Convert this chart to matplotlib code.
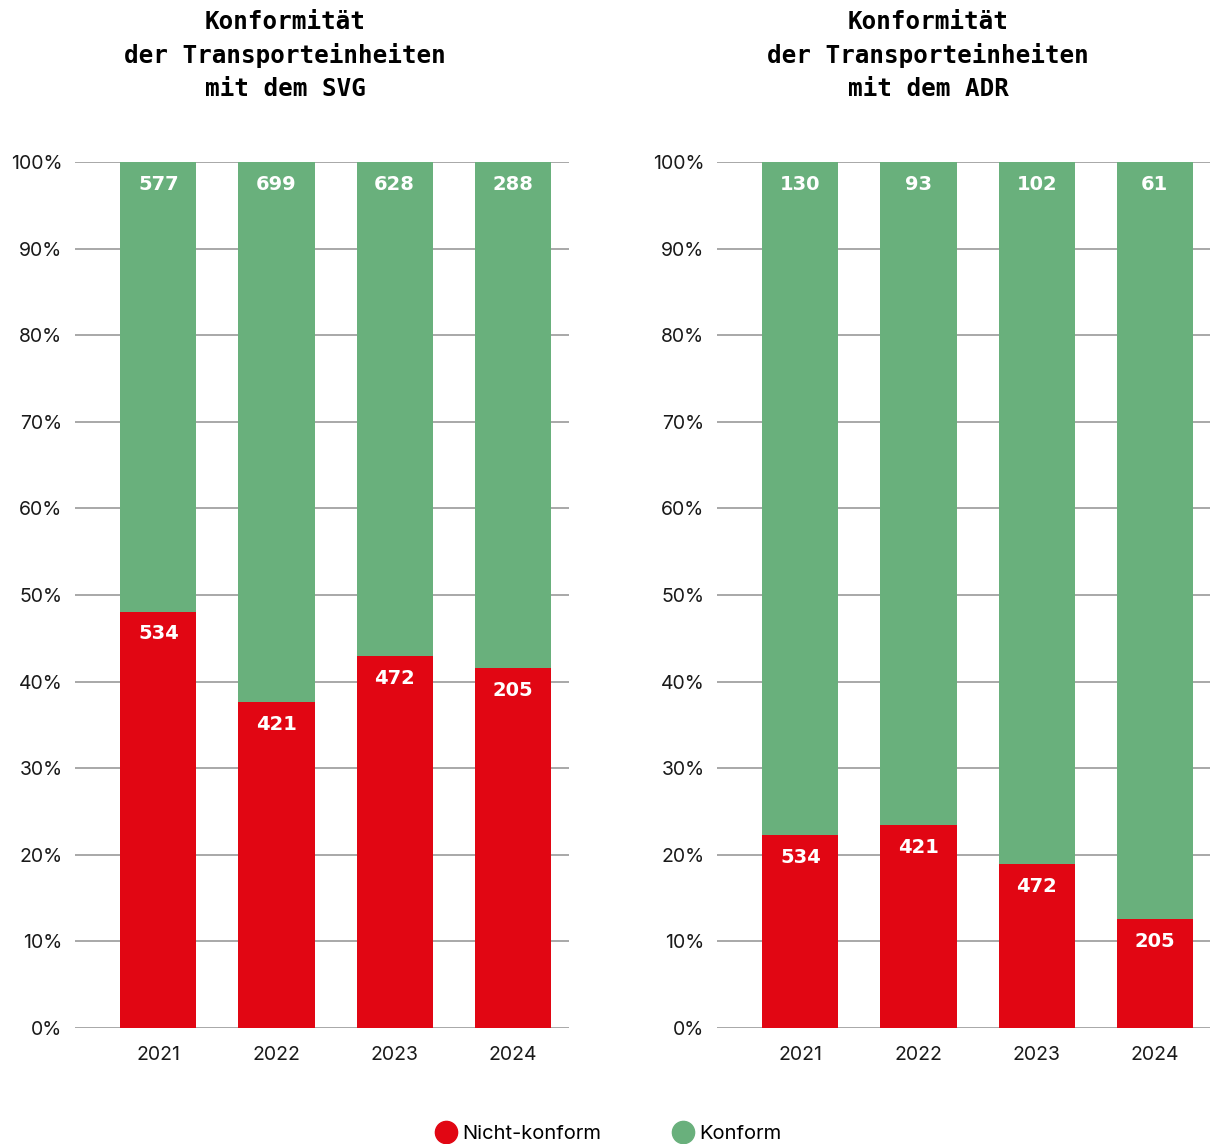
import numpy as np
import matplotlib.pyplot as plt
from matplotlib.lines import Line2D

years = ["2021", "2022", "2023", "2024"]

# SVG: counts per year
svg_nicht = [534, 421, 472, 205]
svg_konform = [577, 699, 628, 288]

# ADR: counts as labelled, shares of non-conform units in percent
adr_nicht = [534, 421, 472, 205]
adr_konform = [130, 93, 102, 61]
adr_nicht_pct = [22.3, 23.4, 18.9, 12.6]

RED = "#e10613"
GREEN = "#69b07c"
GRID = "#9a9a9a"

plt.rcParams["font.family"] = ["Inter", "DejaVu Sans"]

svg_pct = 100 * np.array(svg_nicht) / (np.array(svg_nicht) + np.array(svg_konform))
panels = [
    ("Konformität\nder Transporteinheiten\nmit dem SVG", svg_pct, svg_nicht, svg_konform),
    ("Konformität\nder Transporteinheiten\nmit dem ADR", np.array(adr_nicht_pct), adr_nicht, adr_konform),
]

fig = plt.figure(figsize=(12.1, 11.44), dpi=100)
ax_left = [75 / 1210, 717 / 1210]
title_x = [285 / 1210, 928 / 1210]

x = np.arange(len(years))
for i, (title, red_pct, red_lbl, green_lbl) in enumerate(panels):
    ax = fig.add_axes([ax_left[i], 1 - 1028 / 1144, 494 / 1210, 866 / 1144])
    green_pct = 100 - red_pct
    ax.bar(x, red_pct, width=0.644, color=RED, zorder=2)
    ax.bar(x, green_pct, bottom=red_pct, width=0.644, color=GREEN, zorder=2)

    for xi, r, rl, gl in zip(x, red_pct, red_lbl, green_lbl):
        ax.annotate(str(rl), (xi, r), xytext=(0, -16), textcoords="offset points",
                    ha="center", va="center", color="white", fontsize=14,
                    fontweight="bold", family="DejaVu Sans")
        ax.annotate(str(gl), (xi, 100), xytext=(0, -16.5), textcoords="offset points",
                    ha="center", va="center", color="white", fontsize=14,
                    fontweight="bold", family="DejaVu Sans")

    ax.set_xlim(-0.705, 3.475)
    ax.set_ylim(0, 100)
    ax.set_yticks(np.arange(0, 101, 10))
    ax.set_yticklabels([f"{v}%" for v in range(0, 101, 10)])
    ax.set_xticks(x)
    ax.set_xticklabels(years)
    ax.tick_params(axis="both", length=0, labelsize=14, colors="#1a1a1a")
    ax.tick_params(axis="y", pad=9)
    ax.tick_params(axis="x", pad=13)
    ax.yaxis.grid(True, color=GRID, linewidth=1.2)
    ax.set_axisbelow(True)
    for s in ax.spines.values():
        s.set_visible(False)

    fig.text(title_x[i], 1 - 10 / 1144, title, ha="center", va="top",
             family="DejaVu Sans Mono", fontweight="bold", fontsize=17.5,
             linespacing=1.45)

handles = [
    Line2D([], [], marker="o", linestyle="none", markersize=16, color=RED),
    Line2D([], [], marker="o", linestyle="none", markersize=16, color=GREEN),
]
fig.legend(handles, ["Nicht-konform", "Konform"], loc="center",
           bbox_to_anchor=(0.503, 1 - 1134 / 1144), ncol=2, frameon=False,
           fontsize=14.5, handlelength=1.0, handletextpad=0.3, columnspacing=3.6)

fig.savefig("out.png", dpi=100)
